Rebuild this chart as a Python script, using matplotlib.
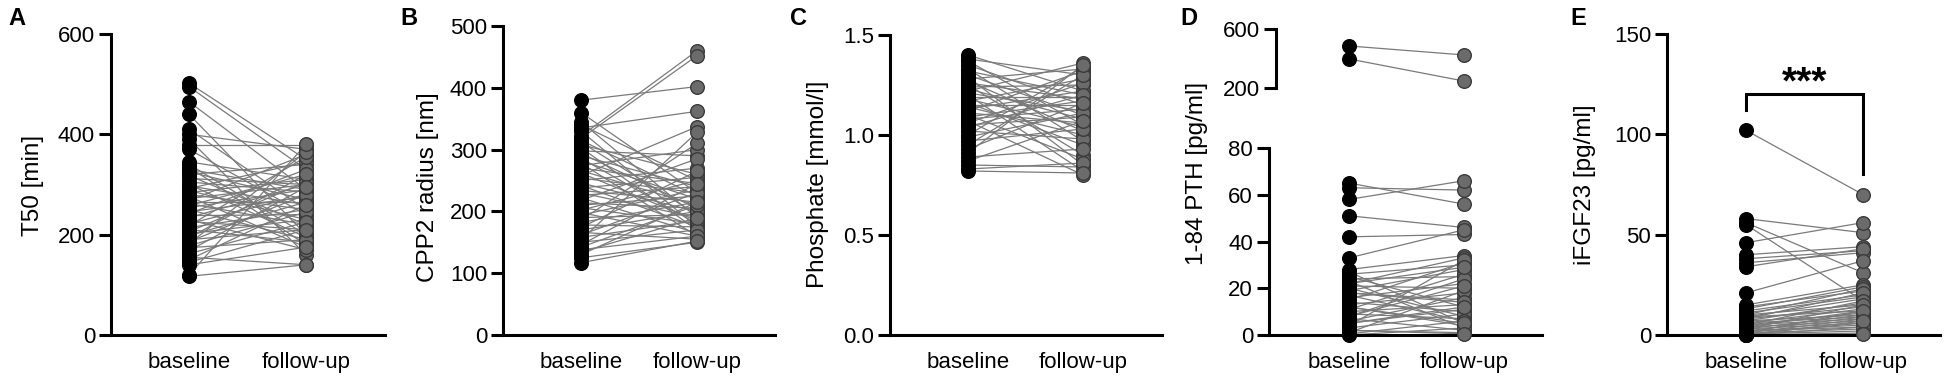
import matplotlib
matplotlib.use("Agg")
import matplotlib.pyplot as plt

plt.rcParams['font.family'] = ['Liberation Sans', 'DejaVu Sans']

# ---------------- data ----------------
groups = ["baseline", "follow-up"]

t50_base = [502, 495, 465, 440, 410, 400, 390, 378, 370, 345, 340, 335, 330, 325, 320, 318, 312, 305,
            300, 297, 292, 288, 284, 280, 276, 272, 268, 265, 262, 258, 254, 250, 246, 242, 238, 234,
            230, 226, 222, 218, 214, 210, 206, 202, 198, 194, 190, 186, 182, 178, 174, 168, 162, 155,
            150, 145, 140, 120, 117]
t50_follow = [350, 330, 290, 200, 250, 370, 160, 378, 240, 310, 200, 180, 290, 270, 340, 220, 300, 285,
              195, 260, 345, 230, 310, 250, 175, 300, 360, 265, 220, 320, 290, 190, 275, 330, 240, 300,
              170, 210, 280, 355, 250, 185, 305, 230, 265, 320, 210, 280, 365, 245, 190, 295, 225, 140,
              260, 210, 175, 380, 140]

cpp_base = [380, 360, 345, 340, 335, 330, 322, 318, 315, 312, 308, 303, 298, 294, 290, 286, 282, 278,
            274, 270, 266, 262, 258, 254, 250, 246, 242, 238, 234, 230, 226, 222, 218, 214, 210, 206,
            202, 198, 194, 190, 186, 182, 178, 174, 170, 166, 162, 158, 154, 150, 146, 142, 138, 134,
            130, 125, 117]
cpp_follow = [402, 230, 190, 250, 362, 175, 460, 452, 225, 195, 260, 170, 290, 205, 240, 180, 220, 160,
              300, 245, 210, 185, 337, 230, 270, 200, 175, 255, 215, 190, 240, 165, 285, 205, 225, 180,
              250, 160, 235, 195, 310, 215, 175, 265, 200, 155, 230, 185, 328, 170, 245, 210, 160, 190,
              215, 150, 152]

pho_base = [1.40, 1.38, 1.37, 1.35, 1.33, 1.32, 1.30, 1.29, 1.28, 1.27, 1.26, 1.25, 1.24, 1.23, 1.22,
            1.21, 1.20, 1.19, 1.18, 1.17, 1.16, 1.15, 1.14, 1.13, 1.12, 1.11, 1.10, 1.09, 1.08, 1.07,
            1.06, 1.05, 1.04, 1.02, 1.00, 0.99, 0.97, 0.95, 0.93, 0.91, 0.89, 0.87, 0.85, 0.83, 0.82]
pho_follow = [1.22, 1.30, 1.05, 1.15, 0.97, 1.20, 1.10, 0.85, 1.33, 1.02, 1.18, 0.90, 1.25, 1.08, 1.36,
              1.12, 0.82, 1.19, 1.04, 1.28, 0.95, 1.15, 1.00, 1.22, 1.32, 1.06, 0.88, 1.17, 1.13, 0.80,
              1.26, 1.09, 1.20, 0.98, 1.34, 1.11, 1.03, 1.30, 1.16, 1.35, 0.93, 1.07, 0.84, 0.86, 0.81]

pth_base = [485, 397, 65, 63, 58, 51, 42, 33, 28, 27, 26, 25, 24, 23, 22, 21, 20, 19, 18, 17, 16, 15,
            14, 13, 12, 11, 10, 9, 8, 7, 6, 5, 4, 3, 2, 1, 0.5, 0, 22, 18, 12, 8, 5, 2]
pth_follow = [424, 247, 56, 62, 66, 46, 43, 45, 34, 5, 30, 12, 25, 3, 33, 20, 8, 28, 15, 6, 22, 31, 10,
              18, 4, 26, 13, 7, 24, 2, 16, 11, 32, 9, 1, 19, 6, 3, 29, 14, 5, 21, 12, 0.5]

fgf_base = [102, 58, 56, 55, 46, 40, 38, 36, 34, 21, 15, 14, 13, 12, 11, 10, 10, 9, 9, 8, 8, 7, 7, 6, 6,
            5, 5, 5, 4, 4, 3, 3, 3, 2, 2, 2, 1, 1, 1, 0.5, 0.5, 0, 0, 0, 0]
fgf_follow = [70, 51, 31, 17, 56, 44, 42, 41, 43, 37, 25, 22, 24, 20, 19, 23, 15, 18, 12, 14, 21, 10, 16,
              13, 9, 17, 11, 8, 12, 7, 15, 6, 10, 5, 9, 4, 8, 3, 12, 6, 2, 4, 1, 7, 0.5]

# ---------------- styling ----------------
W, H = 1949, 384
fig = plt.figure(figsize=(W / 100, H / 100), dpi=100)

SPINE_W = 2.2
LINE_C = '#7a7a7a'
BASE_FC = '#000000'
FOLL_FC = '#6b6b6b'
MS = 9.8
TICK_FS = 16
LAB_FS = 17.5


def px_axes(left, top, right, bottom):
    return fig.add_axes([left / W, (H - bottom) / H, (right - left) / W, (bottom - top) / H])


def style(ax, ylim, yticks, xlim, fmt=None, bottom=True):
    ax.set_ylim(*ylim)
    ax.set_xlim(*xlim)
    ax.set_yticks(yticks)
    if fmt:
        ax.set_yticklabels([fmt.format(v) for v in yticks])
    for s in ['top', 'right']:
        ax.spines[s].set_visible(False)
    ax.spines['left'].set_linewidth(SPINE_W)
    ax.spines['bottom'].set_linewidth(SPINE_W)
    ax.tick_params(axis='y', length=9, width=SPINE_W, pad=2.5, labelsize=TICK_FS, color='black')
    if bottom:
        ax.set_xticks([0, 1])
        ax.set_xticklabels(groups)
        ax.tick_params(axis='x', length=0, pad=12, labelsize=TICK_FS)
    else:
        ax.spines['bottom'].set_visible(False)
        ax.set_xticks([])
    ax.patch.set_alpha(0)


def pairs(ax, b, f, keep=None):
    for yb, yf in zip(b, f):
        if keep is None or (keep(yb) and keep(yf)):
            ax.plot([0, 1], [yb, yf], color=LINE_C, lw=0.9, zorder=1, clip_on=False)
    bb = [v for v in b if keep is None or keep(v)]
    ff = [v for v in f if keep is None or keep(v)]
    ax.plot([0] * len(bb), bb, 'o', ms=MS, mfc=BASE_FC, mec='black', mew=1.0, zorder=3, clip_on=False,
            ls='none')
    ax.plot([1] * len(ff), ff, 'o', ms=MS, mfc=FOLL_FC, mec='#3a3a3a', mew=1.0, zorder=3, clip_on=False,
            ls='none')


def xl(left, right, xb, xf):
    s = xf - xb
    return (-(xb - left) / s, (right - xb) / s)


# Panel A
axA = px_axes(111, 34, 385, 335)
pairs(axA, t50_base, t50_follow)
style(axA, (0, 600), [0, 200, 400, 600], xl(111, 385, 189, 306))
fig.text(33 / W, 1 - 185 / H, 'T50 [min]', rotation=90, ha='center', va='center', fontsize=LAB_FS)

# Panel B
axB = px_axes(503, 26, 775, 335)
pairs(axB, cpp_base, cpp_follow)
style(axB, (0, 500), [0, 100, 200, 300, 400, 500], xl(503, 775, 581, 697))
fig.text(428 / W, 1 - 187 / H, 'CPP2 radius [nm]', rotation=90, ha='center', va='center', fontsize=LAB_FS)

# Panel C
axC = px_axes(890, 35, 1162, 335)
pairs(axC, pho_base, pho_follow)
style(axC, (0, 1.5), [0, 0.5, 1.0, 1.5], xl(890, 1162, 968, 1083), fmt='{:.1f}')
fig.text(818 / W, 1 - 184 / H, 'Phosphate [mmol/l]', rotation=90, ha='center', va='center', fontsize=LAB_FS)

# Panel D (broken axis)
axD = px_axes(1269, 148, 1542, 335)
pairs(axD, pth_base, pth_follow, keep=lambda v: v <= 80)
style(axD, (0, 80), [0, 20, 40, 60, 80], xl(1269, 1542, 1349, 1464))
axD2 = px_axes(1276, 29, 1542, 88)
pairs(axD2, pth_base, pth_follow, keep=lambda v: v > 80)
style(axD2, (200, 600), [200, 600], xl(1276, 1542, 1349, 1464), bottom=False)
fig.text(1197 / W, 1 - 173 / H, '1-84 PTH [pg/ml]', rotation=90, ha='center', va='center', fontsize=LAB_FS)

# Panel E
axE = px_axes(1667, 34, 1940, 335)
pairs(axE, fgf_base, fgf_follow)
style(axE, (0, 150), [0, 50, 100, 150], xl(1667, 1940, 1746, 1863))
fig.text(1585 / W, 1 - 185 / H, 'iFGF23 [pg/ml]', rotation=90, ha='center', va='center', fontsize=LAB_FS)
axE.plot([0, 0, 1, 1], [112, 120, 120, 80], color='black', lw=SPINE_W, clip_on=False, zorder=4,
         solid_joinstyle='miter')
axE.text(0.5, 120.5, '***', ha='center', va='baseline', fontsize=28, fontweight='bold')

# Panel letters
for x, letter in [(8, 'A'), (400, 'B'), (790, 'C'), (1180, 'D'), (1570, 'E')]:
    fig.text(x / W, 1 - 7 / H, letter, ha='left', va='top', fontsize=17, fontweight='bold')

fig.savefig('out.png', dpi=100)
